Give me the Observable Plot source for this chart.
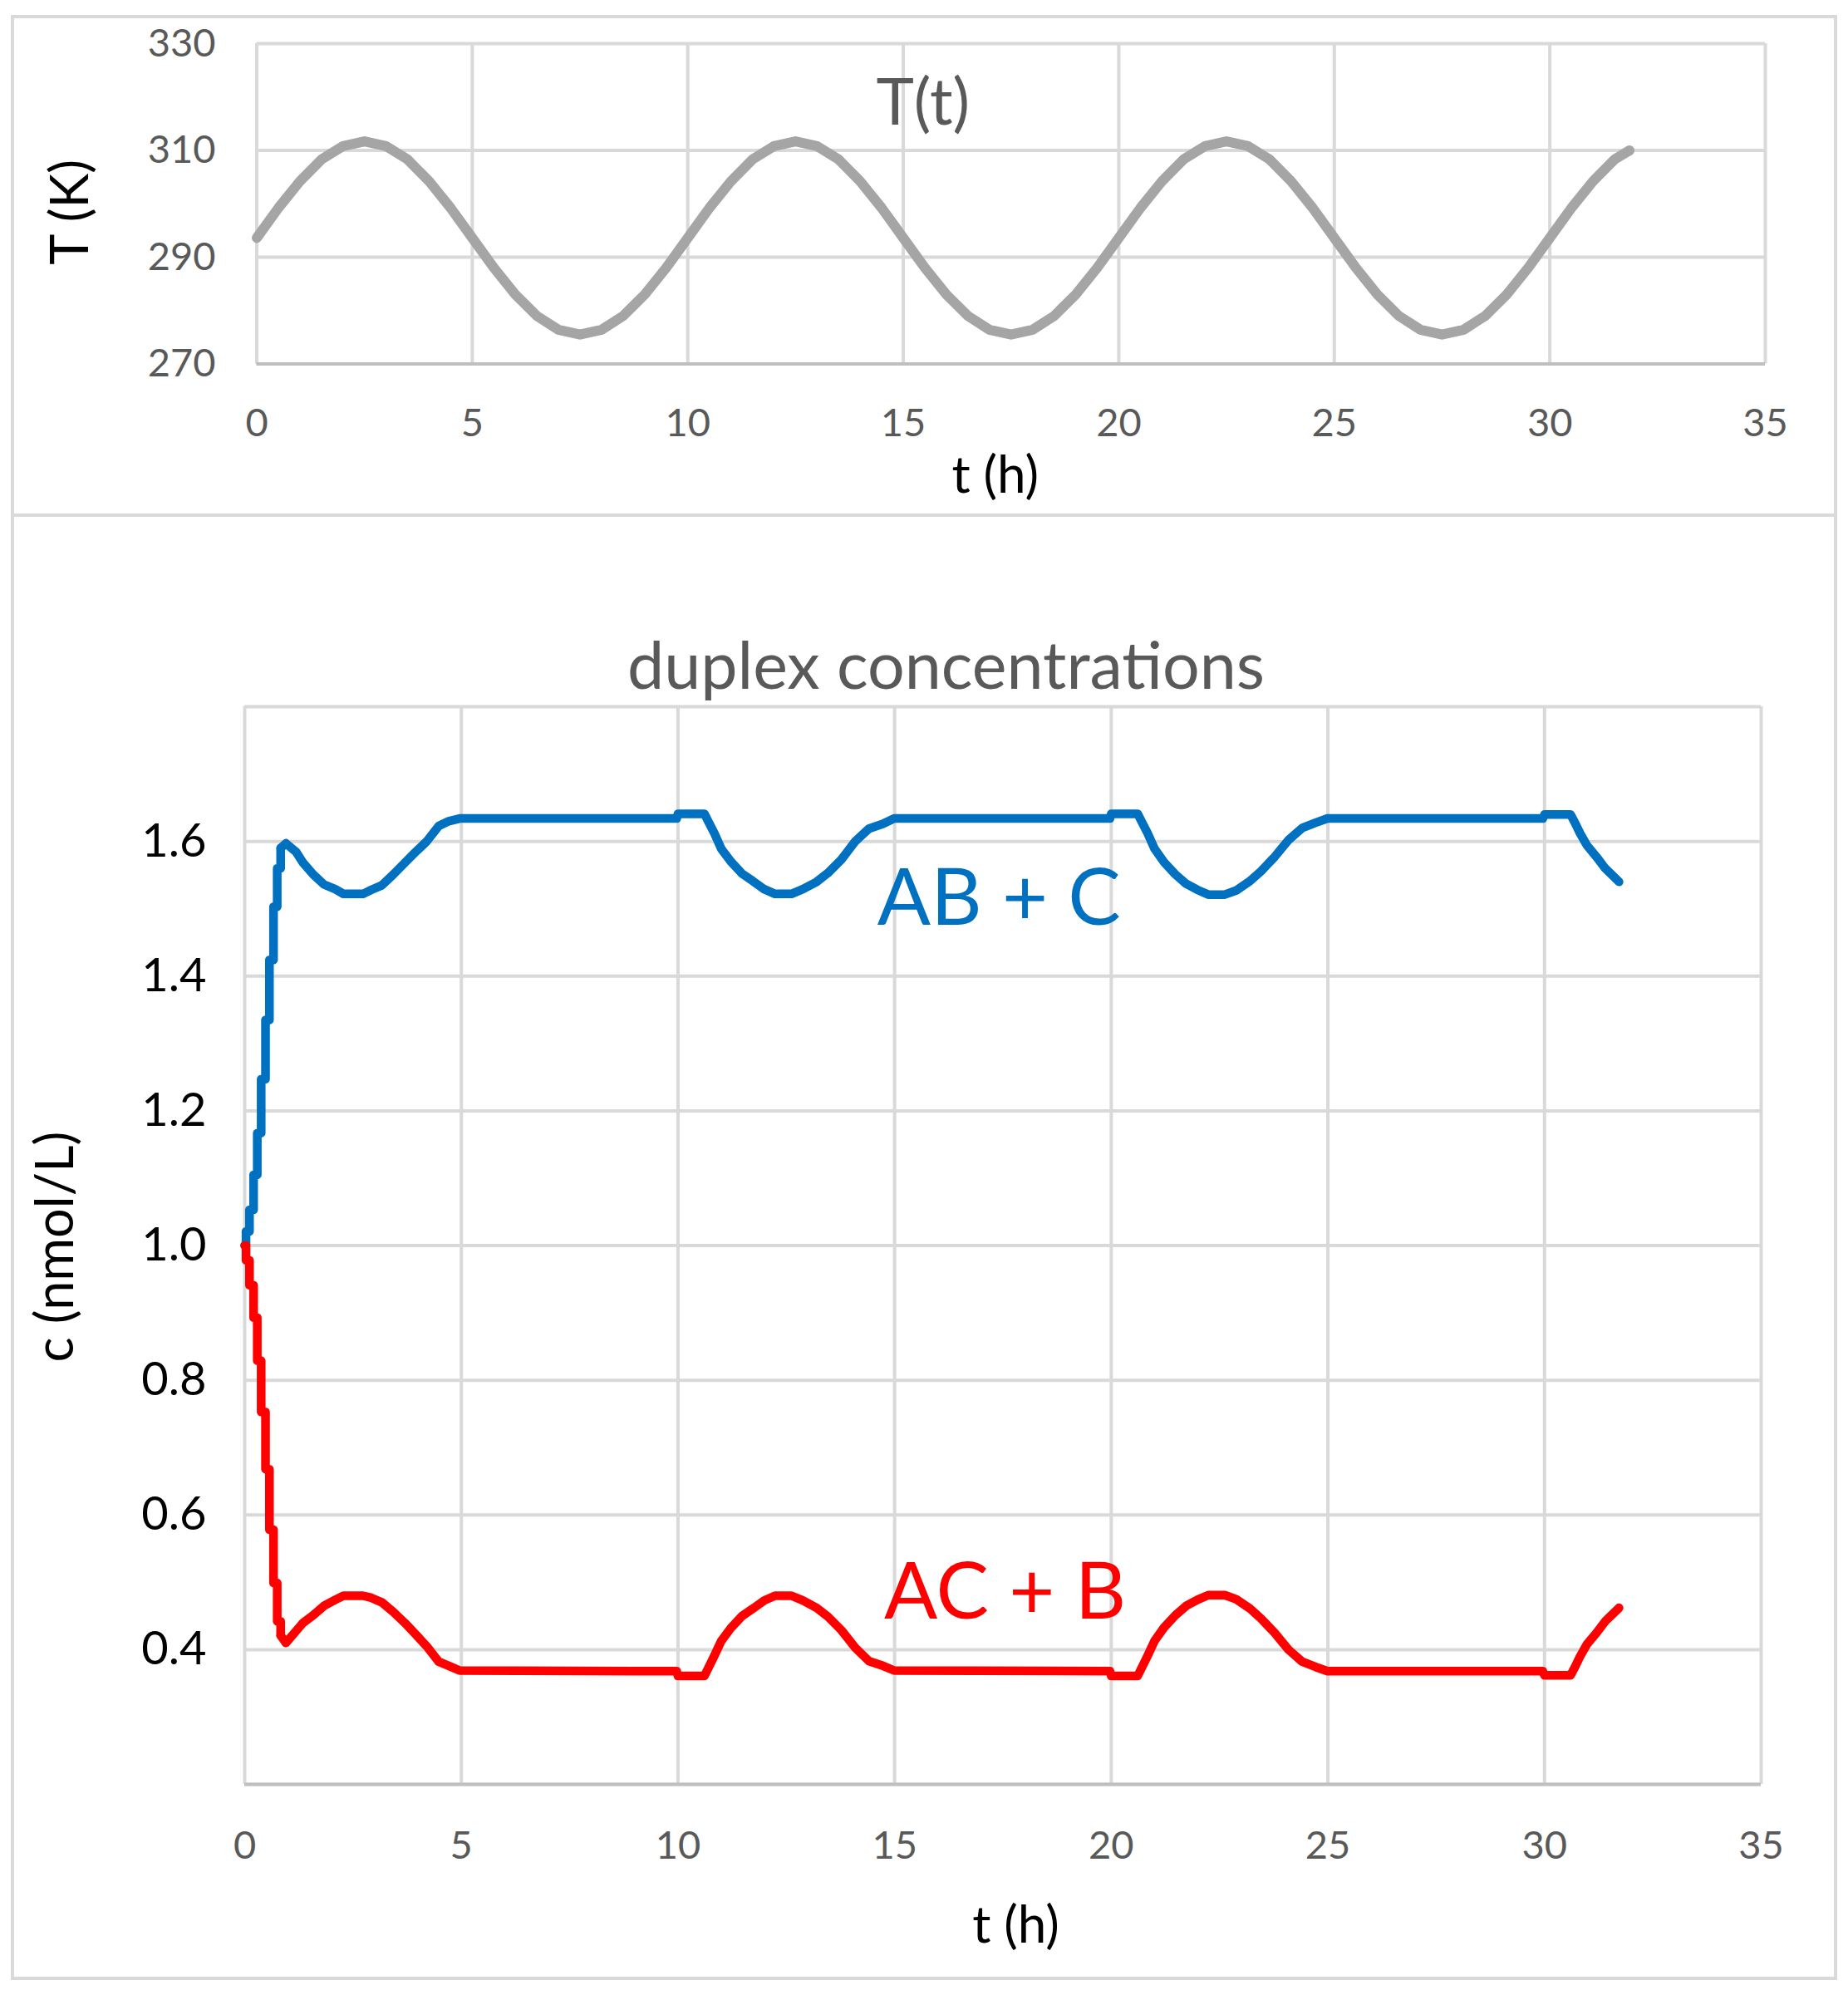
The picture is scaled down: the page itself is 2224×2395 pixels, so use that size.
<!DOCTYPE html>
<html>
<head>
<meta charset="utf-8">
<script src="https://cdn.jsdelivr.net/npm/d3@7"></script>
<script src="https://cdn.jsdelivr.net/npm/@observablehq/plot@0.6"></script>
<style>
  html, body { margin: 0; padding: 0; background: #fff; }
  #page { position: relative; width: 2224px; height: 2395px; background: #fff; overflow: hidden; }
  #page svg { position: absolute; left: 0; max-width: none; background: transparent; }
  .panel { position: absolute; box-sizing: border-box; border: 4px solid #d9d9d9; pointer-events: none; }
</style>
</head>
<body>
<div id="page"></div>
<script>
// Shared time axis ticks (hours)
const xTicks = [0, 5, 10, 15, 20, 25, 30, 35];

// Temperature programme T(t)
const tempTicks = [270, 290, 310, 330];
const tempHours = [
  0, 0.5, 1, 1.5, 2, 2.5, 3, 3.5, 4, 4.5, 5, 5.5, 6, 6.5, 7, 7.5, 8, 8.5, 9, 9.5,
  10, 10.5, 11, 11.5, 12, 12.5, 13, 13.5, 14, 14.5, 15, 15.5, 16, 16.5, 17, 17.5, 18, 18.5, 19, 19.5,
  20, 20.5, 21, 21.5, 22, 22.5, 23, 23.5, 24, 24.5, 25, 25.5, 26, 26.5, 27, 27.5, 28, 28.5, 29, 29.5,
  30, 30.5, 31, 31.5, 31.85
];
const tempKelvin = [
  293.6, 299.2, 304.2, 308.3, 310.8, 311.7, 310.8, 308.3, 304.2, 299.2, 293.6, 288.0, 283.0, 279.0, 276.4, 275.5, 276.4, 279.0, 283.0, 288.0,
  293.6, 299.2, 304.2, 308.3, 310.8, 311.7, 310.8, 308.3, 304.2, 299.2, 293.6, 288.0, 283.0, 279.0, 276.4, 275.5, 276.4, 279.0, 283.0, 288.0,
  293.6, 299.2, 304.2, 308.3, 310.8, 311.7, 310.8, 308.3, 304.2, 299.2, 293.6, 288.0, 283.0, 279.0, 276.4, 275.5, 276.4, 279.0, 283.0, 288.0,
  293.6, 299.2, 304.2, 308.3, 310.0
];

// Duplex concentrations (nmol/L)
const concGrid = [0.2, 0.4, 0.6, 0.8, 1.0, 1.2, 1.4, 1.6, 1.8];
const concTicks = [0.4, 0.6, 0.8, 1.0, 1.2, 1.4, 1.6];

// Initial stepped equilibration (solver output steps)
const riseHours = [0, 0.03, 0.11, 0.205, 0.29, 0.38, 0.48, 0.57, 0.665, 0.75, 0.83];
const riseABC = [1.000, 1.021, 1.053, 1.105, 1.167, 1.247, 1.335, 1.424, 1.503, 1.560, 1.590];
const riseACB = [1.000, 0.978, 0.941, 0.893, 0.829, 0.753, 0.668, 0.578, 0.499, 0.442, 0.421];

// Cycling response
const hours = [
  0.83, 0.95, 1.19, 1.35, 1.58, 1.83, 2.09, 2.28, 2.73, 2.92, 3.17, 3.43, 3.69, 3.94, 4.20, 4.48, 4.71, 4.96,
  9.97, 10.00, 10.61, 10.68, 10.84, 11.00, 11.22, 11.48, 11.73, 11.99, 12.24, 12.62, 12.88, 13.20, 13.46, 13.77, 14.09, 14.41, 14.73, 14.99,
  19.97, 20.00, 20.61, 20.68, 20.84, 21.00, 21.22, 21.48, 21.73, 21.99, 22.24, 22.62, 22.88, 23.20, 23.46, 23.77, 24.09, 24.41, 24.73, 24.99,
  29.96, 30.00, 30.60, 30.70, 30.82, 30.98, 31.20, 31.40, 31.72
];
const abPlusC = [
  1.590, 1.597, 1.584, 1.568, 1.551, 1.536, 1.529, 1.522, 1.522, 1.528, 1.535, 1.551, 1.568, 1.584, 1.600, 1.623, 1.630, 1.634,
  1.634, 1.641, 1.641, 1.632, 1.612, 1.589, 1.570, 1.552, 1.541, 1.529, 1.522, 1.522, 1.529, 1.540, 1.553, 1.573, 1.600, 1.619, 1.626, 1.634,
  1.634, 1.641, 1.641, 1.632, 1.612, 1.589, 1.569, 1.551, 1.537, 1.528, 1.521, 1.521, 1.527, 1.541, 1.556, 1.577, 1.602, 1.620, 1.628, 1.634,
  1.634, 1.640, 1.640, 1.628, 1.612, 1.594, 1.577, 1.560, 1.540
];
const acPlusB = [
  0.421, 0.410, 0.428, 0.440, 0.451, 0.465, 0.474, 0.480, 0.480, 0.477, 0.470, 0.456, 0.440, 0.423, 0.405, 0.382, 0.376, 0.369,
  0.368, 0.361, 0.361, 0.370, 0.391, 0.413, 0.432, 0.450, 0.461, 0.473, 0.480, 0.480, 0.473, 0.462, 0.449, 0.429, 0.403, 0.383, 0.376, 0.369,
  0.368, 0.361, 0.361, 0.370, 0.391, 0.413, 0.433, 0.451, 0.465, 0.474, 0.481, 0.481, 0.475, 0.461, 0.446, 0.425, 0.400, 0.382, 0.374, 0.368,
  0.368, 0.362, 0.362, 0.374, 0.390, 0.408, 0.425, 0.442, 0.462
];

const rows = (xs, ys) => xs.map((t, i) => ({t, v: ys[i]}));

const font = "Lato, 'Open Sans', sans-serif";
const gridStyle = {stroke: "#d9d9d9", strokeOpacity: 1, strokeWidth: 4};
const baseStyle = {fontFamily: font, background: "transparent", overflow: "visible", color: "#000"};

const page = document.getElementById("page");

// Top panel: temperature over time
const tempChart = Plot.plot({
  width: 2224,
  height: 620,
  marginLeft: 308.5,
  marginRight: 100,
  marginTop: 52,
  marginBottom: 182.5,
  style: baseStyle,
  x: {domain: [0, 35]},
  y: {domain: [270, 330]},
  marks: [
    Plot.gridX(xTicks, gridStyle),
    Plot.gridY(tempTicks, gridStyle),
    Plot.ruleY([270], {stroke: "#bfbfbf", strokeWidth: 4}),
    Plot.axisX(xTicks, {tickSize: 0, tickPadding: 54, fontSize: 47, fill: "#595959", label: null}),
    Plot.axisY(tempTicks, {tickSize: 0, tickPadding: 49.5, fontSize: 47, fill: "#595959", label: null}),
    Plot.line(rows(tempHours, tempKelvin), {x: "t", y: "v", stroke: "#a5a5a5", strokeWidth: 12}),
    Plot.text(["T(t)"], {text: d => d, frameAnchor: "top", lineAnchor: "bottom", dx: -106, dy: 97, fontSize: 77, fill: "#595959"}),
    Plot.text(["t (h)"], {text: d => d, frameAnchor: "bottom", textAnchor: "middle", lineAnchor: "bottom", dx: -19, dy: 154.5, fontSize: 62, fill: "#000"}),
    Plot.text(["T (K)"], {text: d => d, frameAnchor: "left", textAnchor: "middle", lineAnchor: "bottom", rotate: -90, dx: -203, dy: 10, fontSize: 63, fill: "#000"})
  ]
});
tempChart.style.top = "0px";
page.appendChild(tempChart);

// Bottom panel: duplex concentrations
const concChart = Plot.plot({
  width: 2224,
  height: 1775,
  marginLeft: 294,
  marginRight: 105,
  marginTop: 230,
  marginBottom: 248,
  style: baseStyle,
  x: {domain: [0, 35]},
  y: {domain: [0.2, 1.8]},
  marks: [
    Plot.gridX(xTicks, gridStyle),
    Plot.gridY(concGrid, gridStyle),
    Plot.ruleY([0.2], {stroke: "#bfbfbf", strokeWidth: 4}),
    Plot.axisX(xTicks, {tickSize: 0, tickPadding: 56.5, fontSize: 47, fill: "#595959", label: null}),
    Plot.axisY(concTicks, {tickSize: 0, tickPadding: 46, fontSize: 56, fill: "#000", tickFormat: d3.format(".1f"), label: null}),
    Plot.line(rows(riseHours, riseABC), {x: "t", y: "v", curve: "step-after", stroke: "#0070c0", strokeWidth: 10.5}),
    Plot.line(rows(hours, abPlusC), {x: "t", y: "v", stroke: "#0070c0", strokeWidth: 10.5}),
    Plot.line(rows(riseHours, riseACB), {x: "t", y: "v", curve: "step-after", stroke: "#ff0000", strokeWidth: 10.5}),
    Plot.line(rows(hours, acPlusB), {x: "t", y: "v", stroke: "#ff0000", strokeWidth: 10.5}),
    Plot.text(["AB + C"], {text: d => d, x: 17.41, y: 1.4756, lineAnchor: "bottom", fontSize: 95, fill: "#0070c0"}),
    Plot.text(["AC + B"], {text: d => d, x: 17.55, y: 0.4455, lineAnchor: "bottom", fontSize: 95, fill: "#ff0000"}),
    Plot.text(["duplex concentrations"], {text: d => d, frameAnchor: "top", lineAnchor: "bottom", dx: -68.5, dy: -22, fontSize: 79, fill: "#595959"}),
    Plot.text(["t (h)"], {text: d => d, frameAnchor: "bottom", textAnchor: "middle", lineAnchor: "bottom", dx: 15.5, dy: 190, fontSize: 62, fill: "#000"}),
    Plot.text(["c (nmol/L)"], {text: d => d, frameAnchor: "left", textAnchor: "middle", lineAnchor: "bottom", rotate: -90, dx: -207, dy: 1.5, fontSize: 63, fill: "#000"})
  ]
});
concChart.style.top = "620px";
page.appendChild(concChart);

// Panel borders
for (const [top, height] of [[18, 604], [618, 1765]]) {
  const frame = document.createElement("div");
  frame.className = "panel";
  frame.style.left = "13px";
  frame.style.top = top + "px";
  frame.style.width = "2198px";
  frame.style.height = height + "px";
  page.appendChild(frame);
}
</script>
</body>
</html>
